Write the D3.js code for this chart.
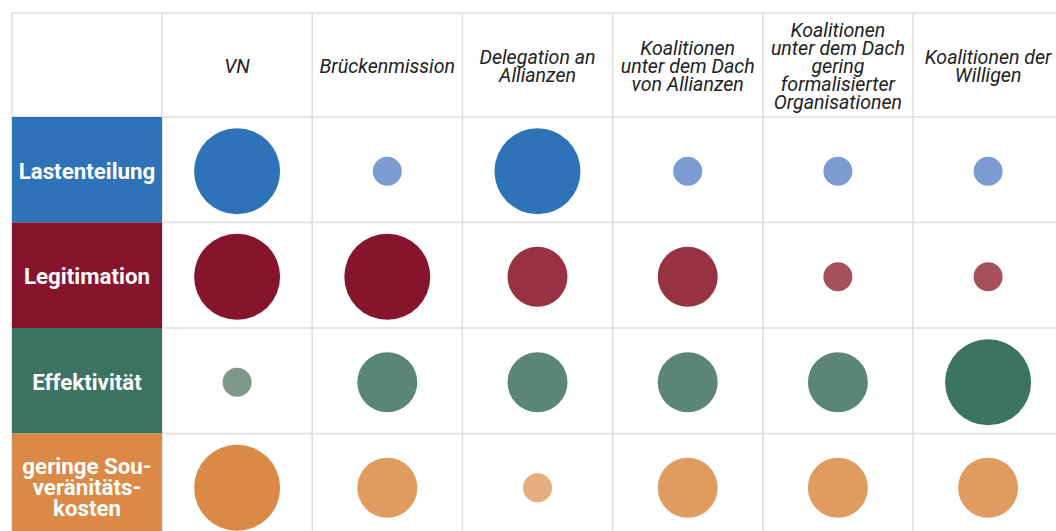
<!DOCTYPE html>
<html>
<head>
<meta charset="utf-8">
<script src="https://cdn.jsdelivr.net/npm/d3@7"></script>
<style>
    body { margin: 0; background: #fff; }
    svg { display: block; font-family: Roboto, sans-serif; }
</style>
</head>
<body>
<svg width="1056" height="531"></svg>
<script>
// Data
const columns = ['VN', 'Brückenmission', 'Delegation an|Allianzen', 'Koalitionen|unter dem Dach|von Allianzen', 'Koalitionen|unter dem Dach|gering|formalisierter|Organisationen', 'Koalitionen der|Willigen'];
const rows = ['Lastenteilung', 'Legitimation', 'Effektivität', 'geringe Sou-|veränitäts-|kosten'];
const lastenteilung = [3, 1, 3, 1, 1, 1];
const legitimation = [3, 3, 2, 2, 1, 1];
const effektivitaet = [1, 2, 2, 2, 2, 3];
const souveraenitaet = [3, 2, 1, 2, 2, 2];
const values = [lastenteilung, legitimation, effektivitaet, souveraenitaet];

// Colours per row: [label/strong, medium, weak]
const row_colors = [
    ['#2e72b8', '#2e72b8', '#7b9bd1'],
    ['#87142d', '#963241', '#a5505a'],
    ['#3c7363', '#5b8676', '#7d978b'],
    ['#da8946', '#e09b61', '#e6ad7f']
];

// Constants
const svg = d3.select('svg');
const left = 12;
const top_y = 13;
const label_width = 150;
const col_width = 150.2;
const header_height = 104;
const row_height = 105.5;
const grid_color = '#dddddd';

const x_scale = d3.scaleBand()
    .domain(d3.range(columns.length))
    .range([left + label_width, left + label_width + col_width * columns.length]);
const y_scale = d3.scaleBand()
    .domain(d3.range(rows.length))
    .range([top_y + header_height, top_y + header_height + row_height * rows.length]);
const r_scale = d3.scaleOrdinal()
    .domain([1, 2, 3])
    .range([14.5, 30, 43]);
const color_of = (ri, v) => row_colors[ri][3 - v];

// Grid
const grid = svg.append('g');
const x_lines = [left, left + label_width].concat(d3.range(1, columns.length + 1).map(i => x_scale(i - 1) + x_scale.bandwidth()));
grid.selectAll('.v')
    .data(x_lines)
    .enter()
    .append('line')
    .attr('x1', d => d)
    .attr('x2', d => d)
    .attr('y1', top_y)
    .attr('y2', 531)
    .attr('stroke', grid_color)
    .attr('stroke-width', 1.5);
const y_lines = [top_y].concat(d3.range(rows.length).map(i => y_scale(i)));
grid.selectAll('.h')
    .data(y_lines)
    .enter()
    .append('line')
    .attr('x1', left)
    .attr('x2', 1056)
    .attr('y1', d => d)
    .attr('y2', d => d)
    .attr('stroke', grid_color)
    .attr('stroke-width', 1.5);

// Header
const header = svg.append('g');
columns.forEach((c, i) => {
    const lines = c.split('|');
    const line_h = 18;
    const cy = top_y + header_height / 2 + 1;
    const text = header.append('text')
        .attr('y', cy - (lines.length - 1) * line_h / 2)
        .attr('text-anchor', 'middle')
        .attr('font-size', '19.6px')
        .attr('font-style', 'italic')
        .attr('fill', '#222');
    lines.forEach((l, j) => {
        text.append('tspan')
            .attr('x', x_scale(i) + x_scale.bandwidth() / 2)
            .attr('dy', j === 0 ? '0.35em' : line_h)
            .text(l);
    });
});

// Row labels
const labels = svg.append('g');
rows.forEach((r, i) => {
    labels.append('rect')
        .attr('x', left)
        .attr('y', y_scale(i))
        .attr('width', label_width)
        .attr('height', y_scale.bandwidth())
        .attr('fill', row_colors[i][0]);
    const lines = r.split('|');
    const line_h = 21;
    const cy = y_scale(i) + y_scale.bandwidth() / 2 + 1;
    const text = labels.append('text')
        .attr('text-anchor', 'middle')
        .attr('y', cy - (lines.length - 1) * line_h / 2)
        .attr('font-size', '22.3px')
        .attr('font-weight', 'bold')
        .attr('fill', 'white');
    lines.forEach((l, j) => {
        text.append('tspan')
            .attr('x', left + label_width / 2)
            .attr('dy', j === 0 ? '0.35em' : line_h)
            .text(l);
    });
});

// Circles
const cells = [];
values.forEach((vals, ri) => vals.forEach((v, ci) => cells.push({ ri, ci, v })));
svg.append('g')
    .selectAll('circle')
    .data(cells)
    .enter()
    .append('circle')
    .attr('cx', d => x_scale(d.ci) + x_scale.bandwidth() / 2)
    .attr('cy', d => y_scale(d.ri) + y_scale.bandwidth() / 2 + 1.5)
    .attr('r', d => r_scale(d.v))
    .attr('fill', d => color_of(d.ri, d.v));
</script>
</body>
</html>
